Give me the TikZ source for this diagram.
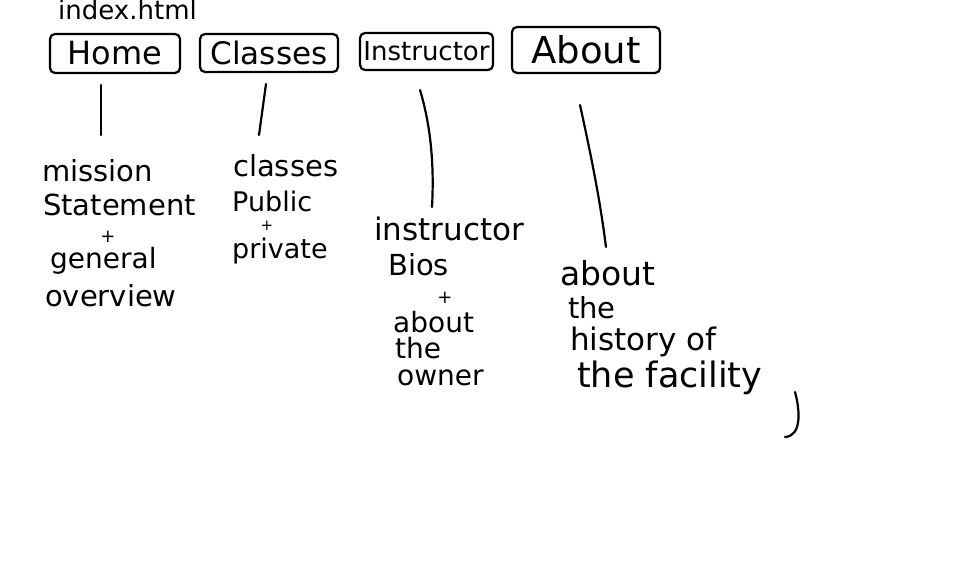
\documentclass[tikz,border=0pt]{standalone}
\usepackage{fontspec}
\setmainfont{DejaVu Sans}
\begin{document}
\begin{tikzpicture}[x=1pt,y=-1pt,
  pen/.style={line width=2.2pt, line cap=round, line join=round},
  tab/.style={pen, draw, rounded corners=5pt, inner sep=0pt, anchor=center},
  note/.style={anchor=base west, inner sep=0pt, font=\fontsize{29}{31}\selectfont},
  plus/.style={anchor=center, inner sep=0pt, font=\fontsize{18}{20}\selectfont}]
\useasboundingbox[fill=white] (0,0) rectangle (960,580);

% label
\node[anchor=base west, inner sep=0pt, font=\fontsize{26}{28}\selectfont] (idx) at (58,20) {index.html};

% tabs
\node[tab, minimum width=130pt, minimum height=39pt, font=\fontsize{32}{34}\selectfont] (home) at (115,53.5) {Home};
\node[tab, minimum width=138pt, minimum height=38pt, font=\fontsize{31}{33}\selectfont] (classes) at (269,53) {Classes};
\node[tab, minimum width=133pt, minimum height=37pt, font=\fontsize{26}{28}\selectfont] (instr) at (426.5,51.5) {Instructor};
\node[tab, minimum width=148pt, minimum height=46pt, font=\fontsize{37}{39}\selectfont] (about) at (586,50) {About};

% Home notes
\node[note] (h1) at (42,182) {mission};
\node[note] (h2) at (43,215) {Statement};
\node[plus] (h3) at (108,237) {+};
\node[note, font=\fontsize{28}{30}\selectfont] (h4) at (50,268) {general};
\node[note] (h5) at (45,306) {overview};

% Classes notes
\node[note] (c1) at (233,176) {classes};
\node[note, font=\fontsize{27}{29}\selectfont] (c2) at (232,211) {Public};
\node[plus, font=\fontsize{15}{17}\selectfont] (c3) at (267,226) {+};
\node[note, font=\fontsize{27}{29}\selectfont] (c4) at (232,258) {private};

% Instructor notes
\node[note, font=\fontsize{31}{33}\selectfont] (i1) at (374,240) {instructor};
\node[note] (i2) at (388,275) {Bios};
\node[plus] (i3) at (445,298) {+};
\node[note, font=\fontsize{28}{30}\selectfont] (i4) at (393,332) {about};
\node[note, font=\fontsize{28}{30}\selectfont] (i5) at (395,358) {the};
\node[note, font=\fontsize{28}{30}\selectfont] (i6) at (397,385) {owner};

% About notes
\node[note, font=\fontsize{33}{35}\selectfont] (a1) at (560,285) {about};
\node[note, font=\fontsize{29}{31}\selectfont] (a2) at (568,318) {the};
\node[note, font=\fontsize{31}{33}\selectfont] (a3) at (570,350) {history of};
\node[note, font=\fontsize{35}{37}\selectfont] (a4) at (577,387) {the facility};

% connector ends
\coordinate (hs) at (101,85);  \coordinate (he) at (101,135);
\coordinate (cs) at (266,84);  \coordinate (ce) at (259,135);
\coordinate (is) at (420,90);  \coordinate (ie) at (432,207);
\coordinate (as) at (580,105); \coordinate (ae) at (606,247);
\coordinate (ys) at (795,392); \coordinate (ye) at (785,437);

\draw[pen] (hs) -- (he);
\draw[pen] (cs) -- (ce);
\draw[pen] (is) .. controls (432,130) and (434,170) .. (ie);
\draw[pen] (as) .. controls (592,160) and (600,200) .. (ae);
\draw[pen] (ys) .. controls (800,410) and (802,436) .. (ye);
\end{tikzpicture}
\end{document}
